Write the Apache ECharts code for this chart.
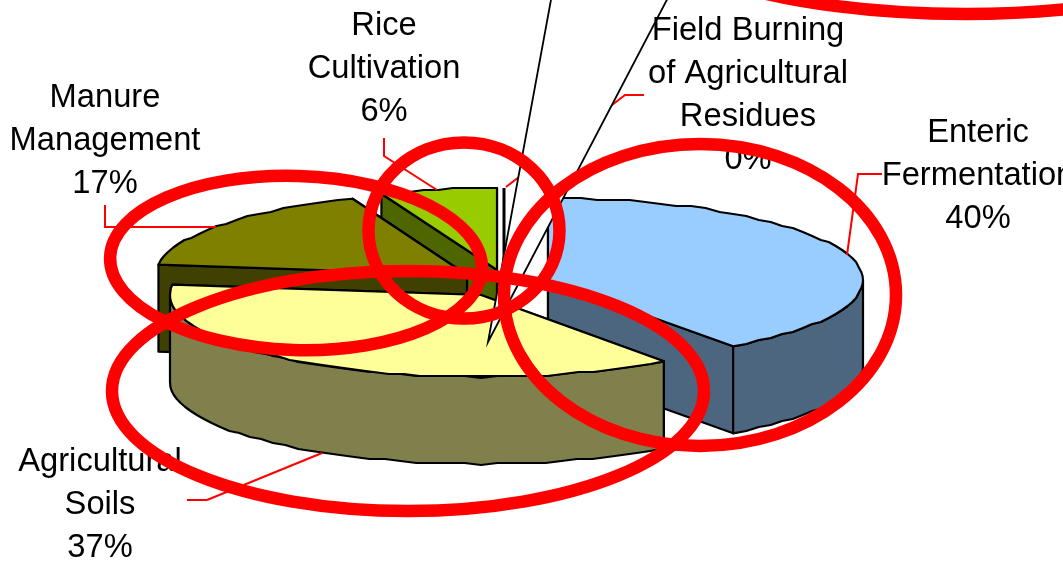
<!DOCTYPE html>
<html><head><meta charset="utf-8">
<style>html,body{margin:0;padding:0;background:#fff}#c{width:1063px;height:561px}</style>
<script src="https://cdn.jsdelivr.net/npm/echarts@6/dist/echarts.min.js"></script>
</head><body><div id="c"></div>
<script>
// ---- data ----
const categories = ["Enteric Fermentation","Agricultural Soils","Manure Management","Rice Cultivation","Field Burning of Agricultural Residues"];
const values = [40,37,17,6,0];
const labelLines = [["Enteric","Fermentation"],["Agricultural","Soils"],["Manure","Management"],["Rice","Cultivation"],["Field Burning","of Agricultural","Residues"]];

// ---- layout and style ----
const FONT = '"Liberation Sans", Arial, sans-serif';
const RADII_X = [315,311,311,314,314], RY = 82, DEPTH = 87;
const sliceCentres = [[548,280],[481,295],[467,275],[497,270],[504,270]];
const topColours = ["#99CCFF","#FFFF99","#808000","#99CC00","#FFFFFF"];
const wallColours = ["#4D6680","#80804D","#404000","#4D6600","#FFFFFF"];
const paintOrder = [0,3,4,2,1];
const labelCentres = [[978,133],[100,462],[105,98],[384,26],[748,31]];
const leaderPaths = [
  [[882,174],[858,174],[847,255]],
  [[207,500],[187,500]],[[207,500],[322,453]],
  [[105,205],[105,227],[216,227]],
  [[384,138],[384,156],[437,190]],
  [[644,95],[625,95],[506,187]]
];
const sliverApex = [488,342], sliverAngles = [10.43,27.6], sliverLength = 420;
const ringShapes = [
  {cx:296,cy:263,rx:186,ry:87,rot:-0.03},
  {cx:464,cy:230.5,rx:95.5,ry:88,rot:0},
  {cx:700,cy:295,rx:196,ry:151,rot:0},
  {cx:408,cy:391,rx:296,ry:120,rot:0},
  {cx:965,cy:-86,rx:330,ry:100,rot:0}
];

// ---- geometry helpers ----
const rad = d => d*Math.PI/180;
const total = values.reduce((a,b)=>a+b,0);
const startAngles = []; let run = 0;
values.forEach(v => { startAngles.push(run); run += v/total*360; });
const snap = (v,s) => Math.round(v/s)*s;
function rim(i,a,jag){
  const c = sliceCentres[i];
  const x = c[0]+RADII_X[i]*Math.sin(rad(a)), y = c[1]-RY*Math.cos(rad(a));
  return jag ? [x, snap(y,2)] : [x,y];
}
function arcPts(i,a0,a1){
  const out=[rim(i,a0)], n=Math.max(1,Math.ceil((a1-a0)/3));
  for(let k=1;k<n;k++) out.push(rim(i,a0+(a1-a0)*k/n,true));
  if(a1>a0) out.push(rim(i,a1));
  return out;
}
const down = p => [p[0],p[1]+DEPTH];
const baseStyle = fill => ({fill, stroke:'#000', lineWidth:2.2, lineJoin:'round'});

function renderSlice(params){
  const i = paintOrder[params.dataIndex];
  const c = sliceCentres[i], a0 = startAngles[i], a1 = a0 + values[i]/total*360;
  const kids = [];
  if(values[i] === 0){
    const p = rim(i,a0);
    kids.push({type:'line',shape:{x1:c[0],y1:c[1],x2:p[0],y2:p[1]},style:{stroke:'#000',lineWidth:3}});
    return {type:'group',children:kids};
  }
  const radial = [a0,a1].map(a=>{const p=rim(i,a);return [c,p,down(p),down(c)];})
    .sort((u,v)=>(u[1][1]+u[0][1])-(v[1][1]+v[0][1]));
  radial.forEach(points=>kids.push({type:'polygon',shape:{points},style:baseStyle(wallColours[i])}));
  const f0=Math.max(a0,90), f1=Math.min(a1,270);
  if(f1>f0){
    const front=arcPts(i,f0,f1);
    kids.push({type:'polygon',shape:{points:front.concat(front.slice().reverse().map(down))},style:baseStyle(wallColours[i])});
  }
  kids.push({type:'polygon',shape:{points:[c].concat(arcPts(i,a0,a1))},style:baseStyle(topColours[i])});
  return {type:'group',children:kids};
}
function renderLeader(params){
  return {type:'polyline',shape:{points:leaderPaths[params.dataIndex]},style:{fill:null,stroke:'#FF0000',lineWidth:2}};
}
function renderSliver(){
  const pts=[sliverApex].concat(sliverAngles.map(a=>[sliverApex[0]+sliverLength*Math.sin(rad(a)),sliverApex[1]-sliverLength*Math.cos(rad(a))]));
  return {type:'polygon',shape:{points:pts},style:{fill:'#FFFFFF',stroke:'#000',lineWidth:1.8,lineJoin:'miter'}};
}
function renderLabel(params){
  const i=params.dataIndex, c=labelCentres[i];
  const lines=labelLines[i].concat([values[i]+'%']);
  return {type:'group',children:lines.map((t,k)=>({type:'text',x:c[0],y:c[1]+k*43,
    style:{text:t,fill:'#000',font:'32.7px '+FONT,textAlign:'center',textVerticalAlign:'middle'}}))};
}
function renderRing(params){
  const r=ringShapes[params.dataIndex];
  return {type:'ellipse',x:r.cx,y:r.cy,rotation:r.rot,shape:{cx:0,cy:0,rx:r.rx,ry:r.ry},
    style:{fill:null,stroke:'#FF0000',lineWidth:12.5}};
}
const customSeries=(renderItem,count,z)=>({type:'custom',coordinateSystem:'none',silent:true,animation:false,z,clip:false,renderItem,
  data:Array.from({length:count},(_,k)=>[k])});

const chart=echarts.init(document.getElementById('c'),null,{renderer:'canvas'});
chart.setOption({
  animation:false,backgroundColor:'#fff',
  series:[
    Object.assign(customSeries(renderSlice,values.length,2),{data:paintOrder.map(i=>({name:categories[i],value:values[i]}))}),
    customSeries(renderLeader,leaderPaths.length,3),
    customSeries(renderSliver,1,4),
    customSeries(renderLabel,categories.length,5),
    customSeries(renderRing,ringShapes.length,6)
  ]
});
</script></body></html>
